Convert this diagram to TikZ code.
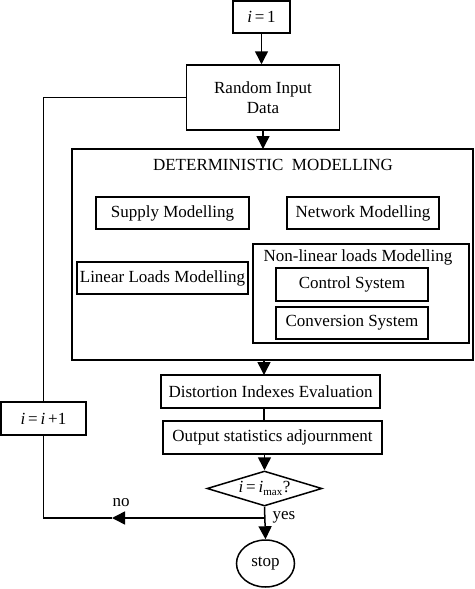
\documentclass[tikz,border=0pt]{standalone}
\usepackage{fontspec}
\setmainfont{Liberation Serif}
\usetikzlibrary{arrows.meta,shapes.geometric}
\begin{document}
\begin{tikzpicture}[x=1pt,y=-1pt,
  font=\fontsize{17}{19.5}\selectfont,
  every path/.style={line width=1.5pt},
  box/.style={draw, line width=1.5pt, inner sep=0pt, align=center, rectangle},
  arr/.style={-{Triangle[length=13pt,width=13pt]}, line width=1.5pt},
  lbl/.style={inner sep=0pt}]
\useasboundingbox (0,0) rectangle (474,589);
\node[box, minimum width=57, minimum height=32] (one) at (261.5,17) {\textit{i}\,=\,1};
\node[box, minimum width=153, minimum height=65] (rand) at (263,97.5) {Random Input\\Data};
\node[box, minimum width=401, minimum height=211] (det) at (272.5,254.5) {};
\node[lbl] (detl) at (273,165) {DETERMINISTIC\ \ MODELLING};
\node[box, minimum width=153, minimum height=32] (supply) at (172.5,213) {Supply Modelling};
\node[box, minimum width=152, minimum height=32] (network) at (363,213) {Network Modelling};
\node[box, minimum width=216, minimum height=99] (nonlin) at (361,293.5) {};
\node[lbl] (nonlinl) at (358,257) {Non-linear loads Modelling};
\node[box, minimum width=171, minimum height=32] (linear) at (162.5,278) {Linear Loads Modelling};
\node[box, minimum width=152, minimum height=33] (control) at (352,284.5) {Control System};
\node[box, minimum width=152, minimum height=32] (conv) at (352,323) {Conversion System};
\node[box, minimum width=219, minimum height=33] (dist) at (270.5,391.5) {Distortion Indexes Evaluation};
\node[box, minimum width=219, minimum height=33] (out) at (272.5,437.5) {Output statistics adjournment};
\node[draw, diamond, aspect=3, inner sep=0pt, minimum width=115, minimum height=35] (dec) at (264.5,488.5) {\textit{i}\,=\,\textit{i}\textsubscript{\fontsize{11}{12}\selectfont max}?};
\node[box, minimum width=85, minimum height=33] (inc) at (43.5,418.5) {\textit{i}\,=\,\textit{i}\,+1};
\node[draw, ellipse, inner sep=0pt, minimum width=58, minimum height=47] (stop) at (265.5,563.5) {stop};
\coordinate (j) at (264.5,518);
\coordinate (m) at (112,518);
\node[lbl] (no) at (121,503) {no};
\node[lbl] (yes) at (284,517) {yes};
% connectors
\draw[arr] (one.south) -- (one.south |- rand.north);
\draw[arr] (263,130) -- (263,149);
\draw[arr] (264,360) -- (264,375);
\draw (dist.south -| 264,0) -- (out.north -| 264,0);
\draw[arr] (264.5,454) -- (dec.north);
\draw[arr] (dec.south) -- (stop.north);
\draw[arr] (j) -- (m);
\draw (m) -- (inc.south |- j) -- (inc.south);
\draw (inc.north) -- (inc.north |- rand.west) -- (rand.west);
\end{tikzpicture}
\end{document}
